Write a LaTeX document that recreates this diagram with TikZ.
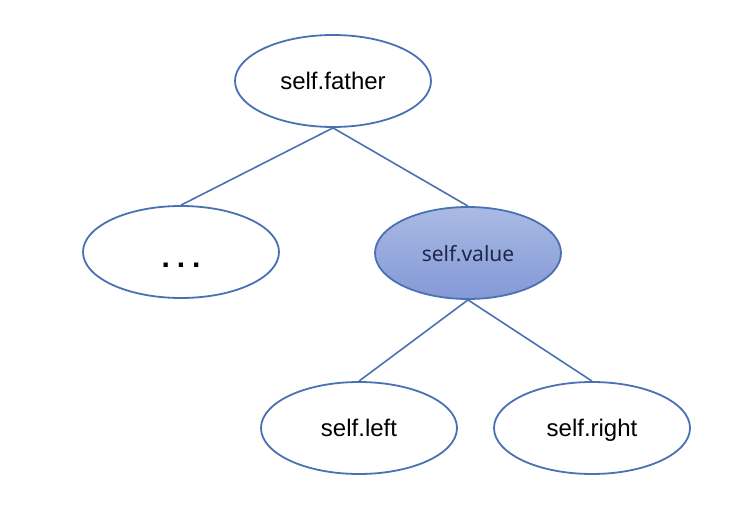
\documentclass[tikz,border=0pt]{standalone}
\usepackage{fontspec}
\setmainfont{Liberation Sans}
\newfontfamily\valfont{Noto Sans}
\usetikzlibrary{shapes.geometric}
\definecolor{edgeblue}{HTML}{4A72B2}
\definecolor{valtop}{HTML}{AABAE4}
\definecolor{valbot}{HTML}{8499D6}
\definecolor{valtext}{HTML}{1E2844}
\begin{document}
\begin{tikzpicture}[x=1pt,y=-1pt,
  treenode/.style={ellipse,draw=edgeblue,line width=1.8pt,minimum width=196pt,minimum height=92pt,inner sep=0pt,text height=17pt,text depth=0pt,font=\fontsize{24}{28}\selectfont},
  valnode/.style={treenode,minimum width=186pt,top color=valtop,bottom color=valbot,text=valtext,text height=17pt,font=\valfont\fontsize{21}{25}\selectfont},
  link/.style={draw=edgeblue,line width=1.6pt}]
\useasboundingbox (0,0) rectangle (743,521);
\node[treenode] (father) at (333,81) {self.father};
\node[treenode,text height=0pt] (dots) at (181,252) {\fontsize{30}{34}\selectfont\bfseries\raisebox{-15pt}[0pt][0pt]{.\kern7pt.\kern7pt.}};
\node[valnode] (value) at (468,253) {self.value};
\node[treenode] (left) at (359,428) {self.left};
\node[treenode] (right) at (592,428) {self.right};
\draw[link] (father.south) -- (dots.north);
\draw[link] (father.south) -- (value.north);
\draw[link] (value.south) -- (left.north);
\draw[link] (value.south) -- (right.north);
\end{tikzpicture}
\end{document}
